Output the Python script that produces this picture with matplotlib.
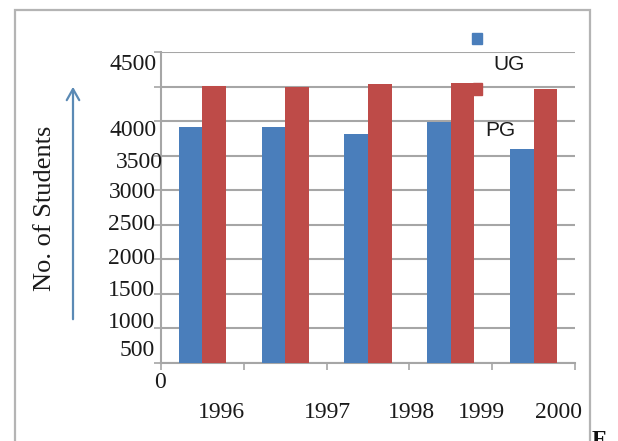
import matplotlib
matplotlib.use("Agg")
import matplotlib.pyplot as plt
from matplotlib.patches import Rectangle, FancyArrowPatch
import numpy as np

years = ["1996", "1997", "1998", "1999", "2000"]
ug_students = [3420, 3420, 3320, 3490, 3100]
pg_students = [4010, 3990, 4030, 4050, 3970]
y_tick_labels = ["4500", "4000", "3500", "3000", "2500", "2000", "1500", "1000", "500", "0"]

W, H = 618, 441
BLUE = "#4a7ebb"
RED = "#be4b48"
GRID = "#a6a6a6"


def fx(x):
    return x / W


def fy(y):
    return 1 - y / H


fig = plt.figure(figsize=(W / 100, H / 100), dpi=100)
fig.patch.set_facecolor("white")

# outer chart frame
fig.patches.append(Rectangle((fx(15), fy(460)), fx(590) - fx(15), fy(10) - fy(460),
                             transform=fig.transFigure, fill=False,
                             edgecolor="#b4b4b4", linewidth=1.6))

ax = fig.add_axes([fx(161), fy(363), fx(575) - fx(161), fy(52) - fy(363)])
x = np.arange(len(years))
bw = 0.284
ax.bar(x - bw / 2, ug_students, width=bw, color=BLUE, zorder=3)
ax.bar(x + bw / 2, pg_students, width=bw, color=RED, zorder=3)

ax.set_xlim(-0.5, len(years) - 0.5)
ax.set_ylim(0, 4500)
ax.set_yticks(np.arange(0, 4501, 500))
ax.set_yticklabels([])
ax.set_xticks(np.arange(-0.5, len(years), 1.0))
ax.set_xticklabels([])
ax.yaxis.grid(True, color=GRID, linewidth=1.5, zorder=0)
ax.tick_params(axis="both", direction="out", length=5, width=1.2, color=GRID)
for side in ("top", "right"):
    ax.spines[side].set_visible(False)
for side in ("left", "bottom"):
    ax.spines[side].set_color(GRID)
    ax.spines[side].set_linewidth(1.5)

serif = ["Liberation Serif", "DejaVu Serif"]

# value labels along the vertical axis
label_pos = [(157, 65), (157, 130), (163, 162), (156, 193), (155, 225),
             (155, 259), (155, 291), (155, 323), (155, 350)]
for txt, (px, py) in zip(y_tick_labels[:-1], label_pos):
    fig.text(fx(px), fy(py), txt, ha="right", va="center",
             fontsize=17, family=serif, color="#1a1a1a")
fig.text(fx(160), fy(382), y_tick_labels[-1], ha="center", va="center",
         fontsize=17, family=serif, color="#1a1a1a")

# year labels under the axis
year_pos = [221, 327, 411, 481, 558]
for yr, px in zip(years, year_pos):
    fig.text(fx(px), fy(412), yr, ha="center", va="center",
             fontsize=17, family=serif, color="#1a1a1a")

# axis title with arrow
fig.text(fx(45), fy(208), "No. of Students", rotation=90, ha="center", va="center",
         fontsize=19, family=serif, color="#1a1a1a")
fig.patches.append(FancyArrowPatch((fx(73), fy(322)), (fx(73), fy(84)),
                                   transform=fig.transFigure,
                                   arrowstyle="->,head_length=8,head_width=4.5",
                                   color="#5b8ab5", linewidth=1.6))

# legend markers and names
fig.patches.append(Rectangle((fx(472), fy(44)), fx(482) - fx(472), fy(33) - fy(44),
                             transform=fig.transFigure, color=BLUE, zorder=5))
fig.patches.append(Rectangle((fx(473), fy(95)), fx(482) - fx(473), fy(83) - fy(95),
                             transform=fig.transFigure, color=RED, zorder=5))
sans = ["Liberation Sans Narrow", "Liberation Sans", "DejaVu Sans"]
fig.text(fx(509), fy(65), "UG", ha="center", va="center", fontsize=15,
         family=sans, color="#1a1a1a")
fig.text(fx(500), fy(130), "PG", ha="center", va="center", fontsize=15,
         family=sans, color="#1a1a1a")

fig.text(fx(592), fy(430), "F", ha="left", va="top", fontsize=17,
         family=serif, fontweight="bold", color="#111111")

fig.savefig("out.png", dpi=100)
